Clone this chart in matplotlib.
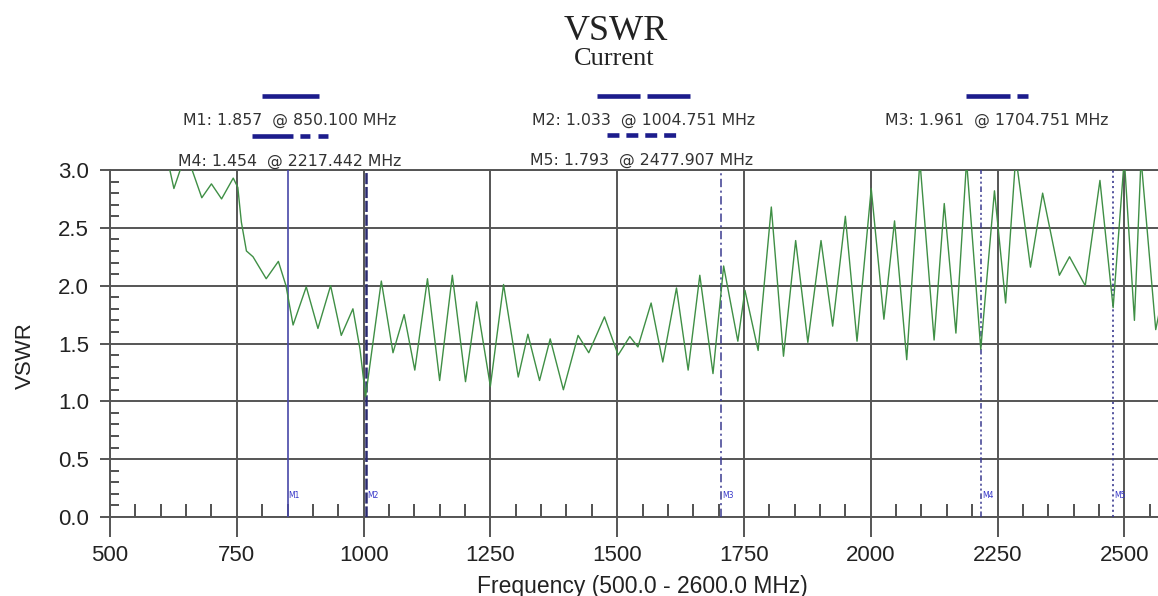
import matplotlib
matplotlib.use("Agg")
import matplotlib.pyplot as plt
from matplotlib.lines import Line2D
from matplotlib.ticker import MultipleLocator, FormatStrFormatter

plt.rcParams['lines.scale_dashes'] = False

# ---- data ----
freq_mhz = [610, 618, 626, 650, 681, 700, 720, 743, 752, 759, 769, 782, 808, 832, 847, 861,
            887, 910, 935, 956, 979, 993, 1004, 1035, 1058, 1080, 1101, 1126, 1150, 1175,
            1201, 1223, 1250, 1276, 1305, 1324, 1347, 1368, 1394, 1423, 1444, 1475, 1502,
            1525, 1541, 1567, 1590, 1617, 1640, 1663, 1689, 1710, 1738, 1752, 1778, 1804,
            1828, 1852, 1876, 1902, 1925, 1950, 1973, 2001, 2026, 2047, 2071, 2097, 2125,
            2145, 2168, 2189, 2217, 2244, 2266, 2286, 2315, 2339, 2372, 2392, 2423, 2452,
            2478, 2500, 2520, 2533, 2562, 2575]
vswr = [3.20, 3.00, 2.84, 3.15, 2.76, 2.88, 2.75, 2.93, 2.85, 2.55, 2.30, 2.25, 2.06, 2.21, 2.00, 1.66,
        1.99, 1.63, 2.00, 1.57, 1.80, 1.45, 1.04, 2.04, 1.42, 1.75, 1.27, 2.06, 1.18, 2.09,
        1.17, 1.86, 1.13, 2.01, 1.21, 1.58, 1.18, 1.54, 1.10, 1.57, 1.42, 1.73, 1.40,
        1.56, 1.47, 1.85, 1.34, 1.98, 1.27, 2.09, 1.24, 2.17, 1.52, 1.96, 1.44, 2.68,
        1.39, 2.39, 1.51, 2.39, 1.65, 2.60, 1.52, 2.84, 1.71, 2.56, 1.36, 3.08, 1.53,
        2.71, 1.59, 3.08, 1.45, 2.82, 1.85, 3.12, 2.16, 2.80, 2.09, 2.25, 2.00, 2.91,
        1.81, 3.10, 1.70, 3.10, 1.62, 1.90]

marker_names = ["M1", "M2", "M3", "M4", "M5"]
marker_freqs = [850.100, 1004.751, 1704.751, 2217.442, 2477.907]
marker_values = [1.857, 1.033, 1.961, 1.454, 1.793]

x_ticks = [500, 750, 1000, 1250, 1500, 1750, 2000, 2250, 2500]
y_ticks = [0.0, 0.5, 1.0, 1.5, 2.0, 2.5, 3.0]

title = "VSWR"
subtitle = "Current"
x_label = "Frequency (500.0 - 2600.0 MHz)"
y_label = "VSWR"

# ---- styles ----
W, H = 1158, 596
fig = plt.figure(figsize=(W / 100, H / 100), dpi=100)
fig.patch.set_facecolor("white")

def fx(px):
    return px / W

def fy(py):
    return 1 - py / H

ax = fig.add_axes([fx(110), fy(517), fx(1065), 347 / H])
ax.set_xlim(500, 2600)
ax.set_ylim(0, 3.0)

grid_c = "#555555"
ax.set_xticks(x_ticks)
ax.set_yticks(y_ticks)
ax.yaxis.set_major_formatter(FormatStrFormatter("%.1f"))
ax.xaxis.set_minor_locator(MultipleLocator(50))
ax.yaxis.set_minor_locator(MultipleLocator(0.1))
ax.grid(True, which="major", color=grid_c, lw=1.4, zorder=1)

lab_font = dict(family=["Liberation Sans", "DejaVu Sans"])
ax.tick_params(axis="x", which="major", direction="out", length=14.4, width=1.4,
               color=grid_c, pad=6.0, labelsize=16, labelcolor="#222222")
ax.tick_params(axis="y", which="major", direction="out", length=7.2, width=1.4,
               color=grid_c, pad=8.0, labelsize=16, labelcolor="#222222")
ax.tick_params(axis="x", which="minor", direction="in", length=9.4, width=1.2, color="#333333")
ax.tick_params(axis="y", which="minor", direction="in", length=6.5, width=1.2, color="#333333")
for lab in ax.get_xticklabels() + ax.get_yticklabels():
    lab.set_fontfamily(lab_font["family"])

for side in ["left", "bottom", "top"]:
    ax.spines[side].set_color(grid_c)
    ax.spines[side].set_linewidth(1.4)
ax.spines["right"].set_visible(False)

# curve
ax.plot(freq_mhz, vswr, color="#3f8f45", lw=1.0, zorder=4)

# marker vertical lines
line_styles = [
    dict(ls="-", color="#4848a8", lw=1.2),
    dict(ls=(0, (8, 2)), color="#2a2a70", lw=1.8),
    dict(ls=(0, (6, 2.5, 1.5, 2.5)), color="#3a3a90", lw=1.1),
    dict(ls=(0, (4, 2, 1.5, 2, 1.5, 2)), color="#3a3a90", lw=1.1),
    dict(ls=(0, (1.5, 2.2)), color="#3a3a90", lw=1.2),
]
for name, f, st in zip(marker_names, marker_freqs, line_styles):
    ax.axvline(f, zorder=3, **st)
    ax.text(f + 2, 0.19, name, color="#3535c8", fontsize=5.5, ha="left", va="center",
            zorder=5, family=["DejaVu Sans"])

ax.set_xlabel(x_label, fontsize=16.5, color="#222222", family=lab_font["family"])
ax.set_ylabel(y_label, fontsize=16, color="#222222", family=lab_font["family"])
ax.xaxis.set_label_coords(0.5, (517 - 598) / 347 + 0.0)
ax.xaxis.label.set_va("bottom")
ax.yaxis.set_label_coords((36 - 110) / 1065, (517 - 356) / 347)

# titles
fig.text(fx(616), fy(40), title, fontsize=26, family=["Liberation Serif", "DejaVu Serif"],
         ha="center", va="baseline", color="#222222")
fig.text(fx(614), fy(65), subtitle, fontsize=19, family=["Liberation Serif", "DejaVu Serif"],
         ha="center", va="baseline", color="#222222")

# marker legends above the plot
legend_pos = [(290, 125, 96), (643, 125, 96), (997, 125, 96), (290, 166, 136), (641, 165, 135)]
bar_len = [57, 93, 62, 76, 69]
bar_dashes = [None, (31, 5), (31.7, 5, 8, 5), (29.5, 5, 7.2, 5.8, 7.2, 5.8), (8.6, 5)]
for name, f, v, (cx, by, ly), L, d in zip(marker_names, marker_freqs, marker_values,
                                          legend_pos, bar_len, bar_dashes):
    fig.text(fx(cx), fy(by), f"{name}: {v:.3f}  @ {f:.3f} MHz", fontsize=11.3,
             family=["DejaVu Sans"], ha="center", va="baseline", color="#333333")
    ln = Line2D([fx(cx - L / 2), fx(cx + L / 2)], [fy(ly), fy(ly)], transform=fig.transFigure,
                color="#1c1c8c", lw=3.3, solid_capstyle="butt", dash_capstyle="butt")
    if d is not None:
        ln.set_dashes(d)
    fig.add_artist(ln)

fig.savefig("out.png", dpi=100, facecolor="white")
